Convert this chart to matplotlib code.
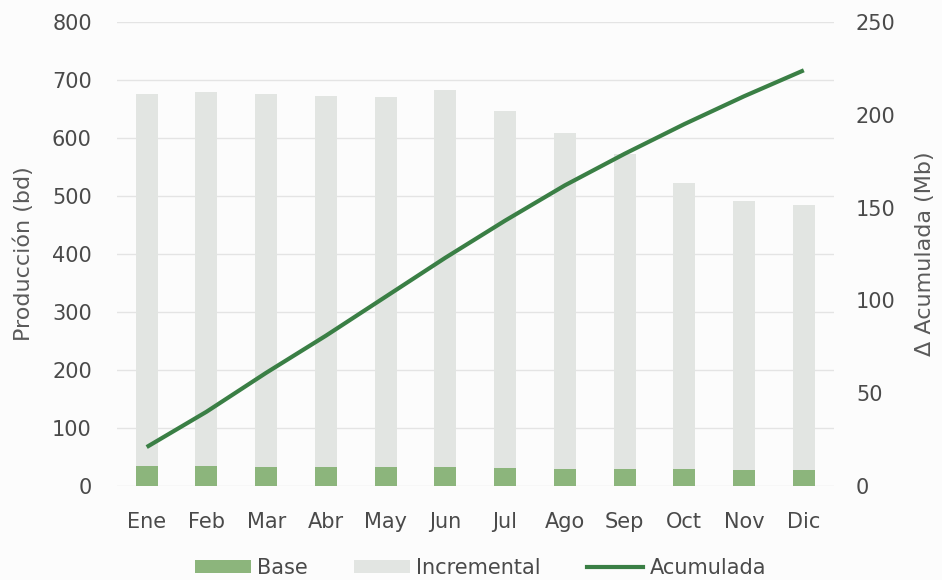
import matplotlib
matplotlib.use("Agg")
import matplotlib.pyplot as plt
from matplotlib.patches import Patch
from matplotlib.lines import Line2D
import numpy as np

months = ["Ene", "Feb", "Mar", "Abr", "May", "Jun", "Jul", "Ago", "Sep", "Oct", "Nov", "Dic"]
base = [34, 34, 33, 33, 32, 32, 31, 30, 29, 29, 28, 28]
total = [676, 680, 676, 673, 671, 682, 646, 608, 572, 523, 492, 484]
acumulada = [21, 40, 61, 81, 102, 123, 143, 162, 179, 195, 210, 224]

incremental = [t - b for t, b in zip(total, base)]

plt.rcParams['font.family'] = ['DejaVu Sans']
text_color = '#4a4a4a'
label_color = '#5a5a5a'

fig = plt.figure(figsize=(9.42, 5.8), dpi=100, facecolor='#fcfcfc')
ax = fig.add_axes([0.124, 0.162, 0.761, 0.800])
ax.set_facecolor('#fcfcfc')

x = np.arange(len(months))
w = 0.37
c_base = '#8cb57c'
c_inc = '#e2e5e2'
c_line = '#3a7f45'

ax.bar(x, base, width=w, color=c_base, zorder=2)
ax.bar(x, incremental, width=w, bottom=base, color=c_inc, zorder=2)

ax.set_xlim(-0.5, len(months) - 0.5)
ax.set_ylim(0, 800)
ax.set_yticks(range(0, 801, 100))
ax.set_xticks(x)
ax.set_xticklabels(months)
ax.grid(axis='y', color='#e4e4e4', linewidth=1, zorder=0)
ax.set_axisbelow(True)
for s in ax.spines.values():
    s.set_visible(False)
ax.tick_params(axis='both', length=0, labelsize=15, colors=text_color)
ax.tick_params(axis='y', pad=18)
ax.tick_params(axis='x', pad=19)
ax.set_ylabel("Producción (bd)", fontsize=16, color=label_color)
ax.yaxis.set_label_coords(-0.116, 0.5)

ax2 = ax.twinx()
ax2.plot(x, acumulada, color=c_line, linewidth=3, solid_capstyle='butt', zorder=3)
ax2.set_ylim(0, 250)
ax2.set_yticks(range(0, 251, 50))
for s in ax2.spines.values():
    s.set_visible(False)
ax2.tick_params(axis='y', length=0, labelsize=15, colors=text_color, pad=16)
ax2.set_ylabel("Δ Acumulada (Mb)", fontsize=16, color=label_color)
ax2.yaxis.set_label_coords(1.113, 0.5)

handles = [Patch(facecolor=c_base, edgecolor='none'),
           Patch(facecolor=c_inc, edgecolor='none'),
           Line2D([0], [0], color=c_line, linewidth=3)]
leg = fig.legend(handles, ["Base", "Incremental", "Acumulada"], loc='center',
                 bbox_to_anchor=(0.51, 0.021), ncol=3, frameon=False,
                 fontsize=15, handlelength=2.7, handletextpad=0.3,
                 columnspacing=2.2, handleheight=0.6)
for t in leg.get_texts():
    t.set_color(text_color)

fig.savefig("out.png", dpi=100, facecolor=fig.get_facecolor())
